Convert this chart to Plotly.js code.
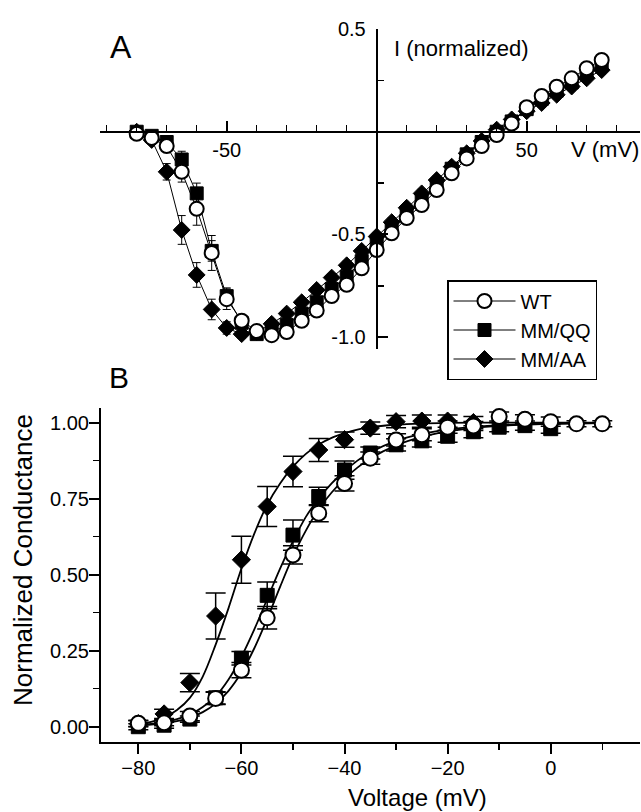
<!DOCTYPE html>
<html>
<head>
<meta charset="utf-8">
<script src="https://cdn.plot.ly/plotly-3.0.1.min.js"></script>
<style>html,body{margin:0;padding:0;background:#fff;}#chart{width:641px;height:812px;}</style>
</head>
<body>
<div id="chart"></div>
<script>
// ---------- Panel A: I-V relations (normalized current) ----------
const vA = [-80,-75,-70,-65,-60,-55,-50,-45,-40,-35,-30,-25,-20,-15,-10,-5,0,5,10,15,20,25,30,35,40,45,50,55,60,65,70,75];
const iWT = [-0.01,-0.03,-0.07,-0.195,-0.375,-0.59,-0.815,-0.92,-0.97,-0.99,-0.975,-0.92,-0.87,-0.80,-0.745,-0.665,-0.576,-0.494,-0.42,-0.357,-0.284,-0.202,-0.13,-0.07,-0.016,0.04,0.119,0.174,0.219,0.26,0.309,0.349];
const eWT = [0.015,0.015,0.02,0.05,0.08,0.085,0.05,0.03,0.02,0.02,0.02,0.02,0.02,0.02,0.02,0.02,0.02,0.02,0.02,0.02,0.02,0.02,0.02,0.02,0.02,0.02,0.02,0.02,0.02,0.02,0.02,0.02];
const iQQ = [0.0,-0.02,-0.05,-0.135,-0.30,-0.58,-0.80,-0.93,-0.985,-0.975,-0.94,-0.885,-0.83,-0.765,-0.705,-0.63,-0.55,-0.47,-0.40,-0.33,-0.26,-0.18,-0.11,-0.05,0.0,0.05,0.11,0.16,0.20,0.24,0.29,0.33];
const eQQ = [0.015,0.015,0.02,0.04,0.05,0.05,0.04,0.03,0.02,0.02,0.02,0.02,0.02,0.02,0.02,0.02,0.02,0.02,0.02,0.02,0.02,0.02,0.02,0.02,0.02,0.02,0.02,0.02,0.02,0.02,0.02,0.02];
const iAA = [0.0,-0.04,-0.195,-0.478,-0.697,-0.865,-0.955,-0.985,-0.975,-0.935,-0.885,-0.83,-0.77,-0.71,-0.65,-0.58,-0.51,-0.44,-0.37,-0.30,-0.235,-0.17,-0.105,-0.045,0.01,0.06,0.10,0.14,0.18,0.22,0.26,0.30];
const eAA = [0.015,0.02,0.04,0.07,0.06,0.05,0.03,0.02,0.02,0.02,0.02,0.02,0.02,0.02,0.02,0.02,0.02,0.02,0.02,0.02,0.02,0.02,0.02,0.02,0.02,0.02,0.02,0.02,0.02,0.02,0.02,0.02];

// ---------- Panel B: conductance-voltage ----------
const vB_WT = [-80,-75,-70,-65,-60,-55,-50,-45,-40,-35,-30,-25,-20,-15,-10,-5,0,5,10];
const gWT = [0.011,0.013,0.035,0.093,0.186,0.358,0.565,0.702,0.80,0.883,0.943,0.96,0.985,0.989,1.02,1.011,1.003,0.996,0.996];
const geWT = [0.01,0.01,0.015,0.02,0.025,0.037,0.03,0.028,0.025,0.02,0.02,0.02,0.02,0.015,0.015,0.015,0.015,0.01,0.01];
const vB_QQ = [-80,-75,-70,-65,-60,-55,-50,-45,-40,-35,-30,-25,-20,-15,-10,-5,0];
const gQQ = [0.0,0.005,0.025,0.095,0.225,0.432,0.63,0.757,0.844,0.90,0.927,0.94,0.955,0.97,0.985,0.99,0.98];
const geQQ = [0.01,0.01,0.01,0.02,0.022,0.044,0.05,0.03,0.03,0.02,0.02,0.02,0.02,0.02,0.015,0.015,0.015];
const vB_AA = [-80,-75,-70,-65,-60,-55,-50,-45,-40,-35,-30,-25,-20,-15];
const gAA = [0.01,0.042,0.145,0.364,0.549,0.724,0.839,0.91,0.944,0.982,1.003,1.005,1.005,1.0];
const geAA = [0.01,0.015,0.03,0.076,0.077,0.066,0.05,0.038,0.025,0.02,0.02,0.02,0.02,0.02];

// fitted curves
const vFit = [-80,-77.5,-75,-72.5,-70,-67.5,-65,-62.5,-60,-57.5,-55,-52.5,-50,-47.5,-45,-42.5,-40,-37.5,-35,-30,-25,-20,-15,-10,-5,0,5,10];
const fitWT = [0.004,0.007,0.011,0.018,0.03,0.048,0.076,0.118,0.178,0.258,0.355,0.46,0.56,0.645,0.715,0.77,0.815,0.852,0.882,0.925,0.953,0.971,0.982,0.989,0.993,0.996,0.997,0.998];
const fitQQ = [0.005,0.009,0.015,0.025,0.04,0.065,0.10,0.155,0.23,0.32,0.42,0.52,0.61,0.69,0.75,0.80,0.84,0.875,0.902,0.94,0.963,0.977,0.986,0.991,0.995,0.997,0.998,0.999];
const fitAA = [0.008,0.016,0.03,0.055,0.095,0.165,0.27,0.39,0.52,0.635,0.73,0.80,0.855,0.897,0.928,0.95,0.965,0.977,0.985,0.993,0.997,0.999,1.0,1.0,1.0,1.0,1.0,1.0];

const names = ['WT','MM/QQ','MM/AA'];

// ---------- layout helpers ----------
const W = 641, H = 812;
const px = x => x / W;
const py = y => 1 - y / H;
const FONT = 'Liberation Sans, Arial, Helvetica, sans-serif';

const mkA = {
  WT: {symbol:'circle', size:14, color:'#fff', line:{color:'#000', width:2}},
  QQ: {symbol:'square', size:13, color:'#000', line:{color:'#000', width:1}},
  AA: {symbol:'diamond', size:13, color:'#000', line:{color:'#000', width:1}}
};
const mkB = {
  WT: {symbol:'circle', size:15, color:'#fff', line:{color:'#000', width:2}},
  QQ: {symbol:'square', size:14, color:'#000', line:{color:'#000', width:1}},
  AA: {symbol:'diamond', size:14, color:'#000', line:{color:'#000', width:1}}
};
const errA = arr => ({type:'data', array:arr, visible:true, color:'#000', thickness:1, width:4});
const errB = arr => ({type:'data', array:arr, visible:true, color:'#000', thickness:1.5, width:10});

const traces = [
  // Panel A (drawn diamonds, squares, circles so circles sit on top)
  {x:vA, y:iAA, error_y:errA(eAA), mode:'lines+markers', name:names[2], legendrank:3,
   line:{color:'#000', width:1}, marker:mkA.AA, xaxis:'x', yaxis:'y'},
  {x:vA, y:iQQ, error_y:errA(eQQ), mode:'lines+markers', name:names[1], legendrank:2,
   line:{color:'#000', width:1}, marker:mkA.QQ, xaxis:'x', yaxis:'y'},
  {x:vA, y:iWT, error_y:errA(eWT), mode:'lines+markers', name:names[0], legendrank:1,
   line:{color:'#000', width:1}, marker:mkA.WT, xaxis:'x', yaxis:'y'},
  // Panel B fits
  {x:vFit, y:fitAA, mode:'lines', line:{color:'#000', width:1.8, shape:'spline'}, showlegend:false, xaxis:'x2', yaxis:'y2', hoverinfo:'skip'},
  {x:vFit, y:fitQQ, mode:'lines', line:{color:'#000', width:1.8, shape:'spline'}, showlegend:false, xaxis:'x2', yaxis:'y2', hoverinfo:'skip'},
  {x:vFit, y:fitWT, mode:'lines', line:{color:'#000', width:1.8, shape:'spline'}, showlegend:false, xaxis:'x2', yaxis:'y2', hoverinfo:'skip'},
  // Panel B data
  {x:vB_AA, y:gAA, error_y:errB(geAA), mode:'markers', name:names[2], showlegend:false, marker:mkB.AA, xaxis:'x2', yaxis:'y2'},
  {x:vB_QQ, y:gQQ, error_y:errB(geQQ), mode:'markers', name:names[1], showlegend:false, marker:mkB.QQ, xaxis:'x2', yaxis:'y2'},
  {x:vB_WT, y:gWT, error_y:errB(geWT), mode:'markers', name:names[0], showlegend:false, marker:mkB.WT, xaxis:'x2', yaxis:'y2'}
];

const layout = {
  width: W, height: H,
  margin: {l:0, r:0, t:0, b:0, pad:0},
  paper_bgcolor:'#fff', plot_bgcolor:'rgba(0,0,0,0)',
  font: {family: FONT, color:'#000', size:19},
  showlegend: true,
  legend: {x:px(447), y:py(280), xanchor:'left', yanchor:'top', bordercolor:'#000', borderwidth:1.5,
           bgcolor:'#fff', font:{size:20, family:FONT}, itemwidth:62, traceorder:'normal',
           tracegroupgap:0},
  xaxis: {domain:[px(100), px(640)], range:[-92.23, 87.77], anchor:'free', position:py(131.7),
          showline:true, linecolor:'#000', linewidth:2, showgrid:false, zeroline:false,
          ticks:'inside', ticklen:10, tickwidth:2, tickcolor:'#000',
          tickmode:'array', tickvals:[-50,50], ticktext:['-50','50'], tickfont:{size:20},
          minor:{tickmode:'linear', tick0:0, dtick:10, ticks:'inside', ticklen:6, tickwidth:1.5, tickcolor:'#000', showgrid:false}},
  yaxis: {domain:[py(349), py(29)], range:[-1.0574, 0.5], anchor:'free', position:px(376.7), side:'left',
          showline:true, linecolor:'#000', linewidth:2, showgrid:false, zeroline:false,
          ticks:'inside', ticklen:10, tickwidth:2, tickcolor:'#000', ticklabelstandoff:6,
          tickmode:'array', tickvals:[-1,-0.5,0.5], ticktext:['-1.0','-0.5','0.5'], tickfont:{size:20},
          minor:{tickmode:'linear', tick0:0, dtick:0.25, ticks:'inside', ticklen:6, tickwidth:1.5, tickcolor:'#000', showgrid:false}},
  xaxis2: {domain:[px(101), px(640)], range:[-87.24, 17.32], anchor:'y2',
           showline:true, linecolor:'#000', linewidth:2, showgrid:false, zeroline:false,
           ticks:'outside', ticklen:10, tickwidth:2, tickcolor:'#000', ticklabelstandoff:-3,
           tickmode:'linear', tick0:0, dtick:20, tickfont:{size:20},
           minor:{tickmode:'linear', tick0:0, dtick:10, ticks:'outside', ticklen:6, tickwidth:1.5, tickcolor:'#000', showgrid:false}},
  yaxis2: {domain:[py(741.7), py(408)], range:[-0.0493, 1.048], anchor:'x2',
           showline:true, linecolor:'#000', linewidth:2, showgrid:false, zeroline:false,
           ticks:'outside', ticklen:10, tickwidth:2, tickcolor:'#000', ticklabelstandoff:-4,
           tickmode:'linear', tick0:0, dtick:0.25, tickformat:'.2f', tickfont:{size:20},
           minor:{tickmode:'linear', tick0:0, dtick:0.125, ticks:'outside', ticklen:6, tickwidth:1.5, tickcolor:'#000', showgrid:false}},
  annotations: [
    {text:'A', x:px(121), y:py(47), xref:'paper', yref:'paper', xanchor:'center', yanchor:'middle', showarrow:false, font:{size:32}},
    {text:'B', x:px(119), y:py(377), xref:'paper', yref:'paper', xanchor:'center', yanchor:'middle', showarrow:false, font:{size:30}},
    {text:'I (normalized)', x:px(392), y:py(48), xref:'paper', yref:'paper', xanchor:'left', yanchor:'middle', showarrow:false, font:{size:22}},
    {text:'V (mV)', x:px(569), y:py(150), xref:'paper', yref:'paper', xanchor:'left', yanchor:'middle', showarrow:false, font:{size:22}},
    {text:'Voltage (mV)', x:px(417), y:py(797), xref:'paper', yref:'paper', xanchor:'center', yanchor:'middle', showarrow:false, font:{size:24}},
    {text:'Normalized Conductance', x:px(23), y:py(560), xref:'paper', yref:'paper', xanchor:'center', yanchor:'middle', textangle:-90, showarrow:false, font:{size:26}}
  ]
};

Plotly.newPlot('chart', traces, layout, {staticPlot:true, displayModeBar:false});
</script>
</body>
</html>
